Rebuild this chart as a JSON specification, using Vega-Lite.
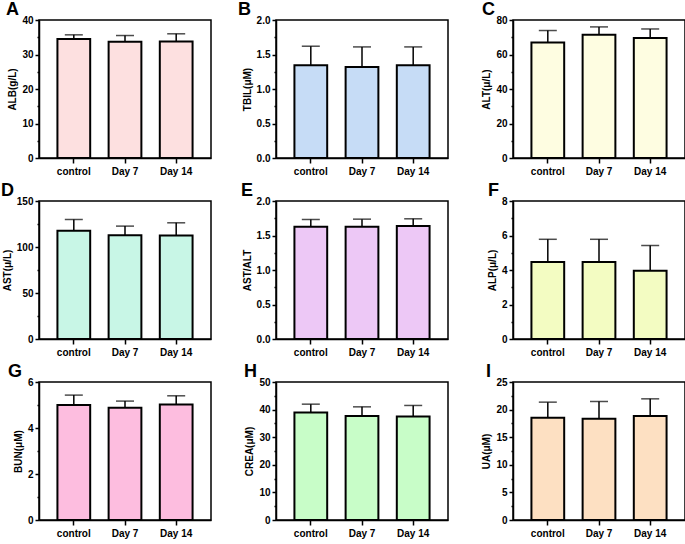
{
  "$schema": "https://vega.github.io/schema/vega-lite/v6.json",
  "padding": {"left": 0, "top": 0, "right": 0, "bottom": 0},
  "background": "white",
  "data": {"values": [
    {"panel": "A", "group": "control", "mean": 34.5, "upper": 35.7},
    {"panel": "A", "group": "Day 7", "mean": 33.7, "upper": 35.5},
    {"panel": "A", "group": "Day 14", "mean": 33.8, "upper": 36.0},
    {"panel": "B", "group": "control", "mean": 1.345, "upper": 1.62},
    {"panel": "B", "group": "Day 7", "mean": 1.32, "upper": 1.61},
    {"panel": "B", "group": "Day 14", "mean": 1.345, "upper": 1.61},
    {"panel": "C", "group": "control", "mean": 67.0, "upper": 73.9},
    {"panel": "C", "group": "Day 7", "mean": 71.4, "upper": 76.0},
    {"panel": "C", "group": "Day 14", "mean": 69.5, "upper": 74.8},
    {"panel": "D", "group": "control", "mean": 117.7, "upper": 129.9},
    {"panel": "D", "group": "Day 7", "mean": 112.7, "upper": 122.7},
    {"panel": "D", "group": "Day 14", "mean": 112.5, "upper": 126.3},
    {"panel": "E", "group": "control", "mean": 1.627, "upper": 1.732},
    {"panel": "E", "group": "Day 7", "mean": 1.627, "upper": 1.737},
    {"panel": "E", "group": "Day 14", "mean": 1.636, "upper": 1.742},
    {"panel": "F", "group": "control", "mean": 4.46, "upper": 5.78},
    {"panel": "F", "group": "Day 7", "mean": 4.46, "upper": 5.78},
    {"panel": "F", "group": "Day 14", "mean": 3.96, "upper": 5.42},
    {"panel": "G", "group": "control", "mean": 5.0, "upper": 5.43},
    {"panel": "G", "group": "Day 7", "mean": 4.88, "upper": 5.17},
    {"panel": "G", "group": "Day 14", "mean": 5.02, "upper": 5.40},
    {"panel": "H", "group": "control", "mean": 38.97, "upper": 41.97},
    {"panel": "H", "group": "Day 7", "mean": 37.65, "upper": 41.0},
    {"panel": "H", "group": "Day 14", "mean": 37.5, "upper": 41.5},
    {"panel": "I", "group": "control", "mean": 18.54, "upper": 21.35},
    {"panel": "I", "group": "Day 7", "mean": 18.36, "upper": 21.47},
    {"panel": "I", "group": "Day 14", "mean": 18.84, "upper": 21.95}
  ]},
  "columns": 3,
  "bounds": "flush",
  "spacing": {"row": 43, "column": 65},
  "concat": [
    {
      "title": {"text": "A", "dx": -33},
      "width": 172, "height": 138,
      "transform": [{"filter": "datum.panel === 'A'"}],
      "encoding": {
        "x": {"field": "group", "type": "nominal", "sort": ["control", "Day 7", "Day 14"], "scale": {"paddingInner": 0.36, "paddingOuter": 0.36}, "axis": {"title": null, "labelAngle": 0}},
        "y": {"field": "mean", "type": "quantitative", "scale": {"domain": [0, 40], "nice": false},
           "axis": {"title": "ALB(g/L)", "values": [0,5,10,15,20,25,30,35,40], "labelExpr": "datum.value % 10 === 0 ? datum.label : ''", "tickSize": {"condition": {"test": "datum.value % 10 === 0", "value": 4}, "value": 2}}}
      },
      "layer": [
        {"mark": {"type": "bar", "fill": "#fde0e0", "stroke": "black", "strokeWidth": 2}},
        {"mark": {"type": "rule", "strokeWidth": 1.5, "color": "black"}, "encoding": {"y2": {"field": "upper"}}},
        {"mark": {"type": "tick", "size": 18, "thickness": 1.5, "color": "black"}, "encoding": {"y": {"field": "upper", "type": "quantitative", "title": "ALB(g/L)"}}}
      ]
    },
    {
      "title": {"text": "B", "dx": -38},
      "width": 172, "height": 138,
      "transform": [{"filter": "datum.panel === 'B'"}],
      "encoding": {
        "x": {"field": "group", "type": "nominal", "sort": ["control", "Day 7", "Day 14"], "scale": {"paddingInner": 0.36, "paddingOuter": 0.36}, "axis": {"title": null, "labelAngle": 0}},
        "y": {"field": "mean", "type": "quantitative", "scale": {"domain": [0, 2], "nice": false},
           "axis": {"title": "TBIL(μM)", "format": ".1f", "values": [0,0.25,0.5,0.75,1,1.25,1.5,1.75,2], "labelExpr": "datum.value % 0.5 === 0 ? datum.label : ''", "tickSize": {"condition": {"test": "datum.value % 0.5 === 0", "value": 4}, "value": 2}}}
      },
      "layer": [
        {"mark": {"type": "bar", "fill": "#c6dcf6", "stroke": "black", "strokeWidth": 2}},
        {"mark": {"type": "rule", "strokeWidth": 1.5, "color": "black"}, "encoding": {"y2": {"field": "upper"}}},
        {"mark": {"type": "tick", "size": 18, "thickness": 1.5, "color": "black"}, "encoding": {"y": {"field": "upper", "type": "quantitative", "title": "TBIL(μM)"}}}
      ]
    },
    {
      "title": {"text": "C", "dx": -31},
      "width": 172, "height": 138,
      "transform": [{"filter": "datum.panel === 'C'"}],
      "encoding": {
        "x": {"field": "group", "type": "nominal", "sort": ["control", "Day 7", "Day 14"], "scale": {"paddingInner": 0.36, "paddingOuter": 0.36}, "axis": {"title": null, "labelAngle": 0}},
        "y": {"field": "mean", "type": "quantitative", "scale": {"domain": [0, 80], "nice": false},
           "axis": {"title": "ALT(μ/L)", "values": [0,10,20,30,40,50,60,70,80], "labelExpr": "datum.value % 20 === 0 ? datum.label : ''", "tickSize": {"condition": {"test": "datum.value % 20 === 0", "value": 4}, "value": 2}}}
      },
      "layer": [
        {"mark": {"type": "bar", "fill": "#fefde1", "stroke": "black", "strokeWidth": 2}},
        {"mark": {"type": "rule", "strokeWidth": 1.5, "color": "black"}, "encoding": {"y2": {"field": "upper"}}},
        {"mark": {"type": "tick", "size": 18, "thickness": 1.5, "color": "black"}, "encoding": {"y": {"field": "upper", "type": "quantitative", "title": "ALT(μ/L)"}}}
      ]
    },
    {
      "title": {"text": "D", "dx": -38},
      "width": 172, "height": 138,
      "transform": [{"filter": "datum.panel === 'D'"}],
      "encoding": {
        "x": {"field": "group", "type": "nominal", "sort": ["control", "Day 7", "Day 14"], "scale": {"paddingInner": 0.36, "paddingOuter": 0.36}, "axis": {"title": null, "labelAngle": 0}},
        "y": {"field": "mean", "type": "quantitative", "scale": {"domain": [0, 150], "nice": false},
           "axis": {"title": "AST(μ/L)", "values": [0,25,50,75,100,125,150], "labelExpr": "datum.value % 50 === 0 ? datum.label : ''", "tickSize": {"condition": {"test": "datum.value % 50 === 0", "value": 4}, "value": 2}}}
      },
      "layer": [
        {"mark": {"type": "bar", "fill": "#c8f6e6", "stroke": "black", "strokeWidth": 2}},
        {"mark": {"type": "rule", "strokeWidth": 1.5, "color": "black"}, "encoding": {"y2": {"field": "upper"}}},
        {"mark": {"type": "tick", "size": 18, "thickness": 1.5, "color": "black"}, "encoding": {"y": {"field": "upper", "type": "quantitative", "title": "AST(μ/L)"}}}
      ]
    },
    {
      "title": {"text": "E", "dx": -35},
      "width": 172, "height": 138,
      "transform": [{"filter": "datum.panel === 'E'"}],
      "encoding": {
        "x": {"field": "group", "type": "nominal", "sort": ["control", "Day 7", "Day 14"], "scale": {"paddingInner": 0.36, "paddingOuter": 0.36}, "axis": {"title": null, "labelAngle": 0}},
        "y": {"field": "mean", "type": "quantitative", "scale": {"domain": [0, 2], "nice": false},
           "axis": {"title": "AST/ALT", "format": ".1f", "values": [0,0.25,0.5,0.75,1,1.25,1.5,1.75,2], "labelExpr": "datum.value % 0.5 === 0 ? datum.label : ''", "tickSize": {"condition": {"test": "datum.value % 0.5 === 0", "value": 4}, "value": 2}}}
      },
      "layer": [
        {"mark": {"type": "bar", "fill": "#edc8f6", "stroke": "black", "strokeWidth": 2}},
        {"mark": {"type": "rule", "strokeWidth": 1.5, "color": "black"}, "encoding": {"y2": {"field": "upper"}}},
        {"mark": {"type": "tick", "size": 18, "thickness": 1.5, "color": "black"}, "encoding": {"y": {"field": "upper", "type": "quantitative", "title": "AST/ALT"}}}
      ]
    },
    {
      "title": {"text": "F", "dx": -25},
      "width": 172, "height": 138,
      "transform": [{"filter": "datum.panel === 'F'"}],
      "encoding": {
        "x": {"field": "group", "type": "nominal", "sort": ["control", "Day 7", "Day 14"], "scale": {"paddingInner": 0.36, "paddingOuter": 0.36}, "axis": {"title": null, "labelAngle": 0}},
        "y": {"field": "mean", "type": "quantitative", "scale": {"domain": [0, 8], "nice": false},
           "axis": {"title": "ALP(μ/L)", "values": [0,1,2,3,4,5,6,7,8], "labelExpr": "datum.value % 2 === 0 ? datum.label : ''", "tickSize": {"condition": {"test": "datum.value % 2 === 0", "value": 4}, "value": 2}}}
      },
      "layer": [
        {"mark": {"type": "bar", "fill": "#f3fcc2", "stroke": "black", "strokeWidth": 2}},
        {"mark": {"type": "rule", "strokeWidth": 1.5, "color": "black"}, "encoding": {"y2": {"field": "upper"}}},
        {"mark": {"type": "tick", "size": 18, "thickness": 1.5, "color": "black"}, "encoding": {"y": {"field": "upper", "type": "quantitative", "title": "ALP(μ/L)"}}}
      ]
    },
    {
      "title": {"text": "G", "dx": -31},
      "width": 172, "height": 138,
      "transform": [{"filter": "datum.panel === 'G'"}],
      "encoding": {
        "x": {"field": "group", "type": "nominal", "sort": ["control", "Day 7", "Day 14"], "scale": {"paddingInner": 0.36, "paddingOuter": 0.36}, "axis": {"title": null, "labelAngle": 0}},
        "y": {"field": "mean", "type": "quantitative", "scale": {"domain": [0, 6], "nice": false},
           "axis": {"title": "BUN(μM)", "values": [0,1,2,3,4,5,6], "labelExpr": "datum.value % 2 === 0 ? datum.label : ''", "tickSize": {"condition": {"test": "datum.value % 2 === 0", "value": 4}, "value": 2}}}
      },
      "layer": [
        {"mark": {"type": "bar", "fill": "#fdbddf", "stroke": "black", "strokeWidth": 2}},
        {"mark": {"type": "rule", "strokeWidth": 1.5, "color": "black"}, "encoding": {"y2": {"field": "upper"}}},
        {"mark": {"type": "tick", "size": 18, "thickness": 1.5, "color": "black"}, "encoding": {"y": {"field": "upper", "type": "quantitative", "title": "BUN(μM)"}}}
      ]
    },
    {
      "title": {"text": "H", "dx": -32},
      "width": 172, "height": 138,
      "transform": [{"filter": "datum.panel === 'H'"}],
      "encoding": {
        "x": {"field": "group", "type": "nominal", "sort": ["control", "Day 7", "Day 14"], "scale": {"paddingInner": 0.36, "paddingOuter": 0.36}, "axis": {"title": null, "labelAngle": 0}},
        "y": {"field": "mean", "type": "quantitative", "scale": {"domain": [0, 50], "nice": false},
           "axis": {"title": "CREA(μM)", "values": [0,5,10,15,20,25,30,35,40,45,50], "labelExpr": "datum.value % 10 === 0 ? datum.label : ''", "tickSize": {"condition": {"test": "datum.value % 10 === 0", "value": 4}, "value": 2}}}
      },
      "layer": [
        {"mark": {"type": "bar", "fill": "#c8fdc8", "stroke": "black", "strokeWidth": 2}},
        {"mark": {"type": "rule", "strokeWidth": 1.5, "color": "black"}, "encoding": {"y2": {"field": "upper"}}},
        {"mark": {"type": "tick", "size": 18, "thickness": 1.5, "color": "black"}, "encoding": {"y": {"field": "upper", "type": "quantitative", "title": "CREA(μM)"}}}
      ]
    },
    {
      "title": {"text": "I", "dx": -27},
      "width": 172, "height": 138,
      "transform": [{"filter": "datum.panel === 'I'"}],
      "encoding": {
        "x": {"field": "group", "type": "nominal", "sort": ["control", "Day 7", "Day 14"], "scale": {"paddingInner": 0.36, "paddingOuter": 0.36}, "axis": {"title": null, "labelAngle": 0}},
        "y": {"field": "mean", "type": "quantitative", "scale": {"domain": [0, 25], "nice": false},
           "axis": {"title": "UA(μM)", "values": [0,2.5,5,7.5,10,12.5,15,17.5,20,22.5,25], "labelExpr": "datum.value % 5 === 0 ? datum.label : ''", "tickSize": {"condition": {"test": "datum.value % 5 === 0", "value": 4}, "value": 2}}}
      },
      "layer": [
        {"mark": {"type": "bar", "fill": "#fde0c2", "stroke": "black", "strokeWidth": 2}},
        {"mark": {"type": "rule", "strokeWidth": 1.5, "color": "black"}, "encoding": {"y2": {"field": "upper"}}},
        {"mark": {"type": "tick", "size": 18, "thickness": 1.5, "color": "black"}, "encoding": {"y": {"field": "upper", "type": "quantitative", "title": "UA(μM)"}}}
      ]
    }
  ],
  "config": {
    "view": {"stroke": "black", "strokeWidth": 1.5},
    "axis": {
      "grid": false,
      "labelFont": "Liberation Sans", "labelFontWeight": "bold", "labelFontSize": 10, "labelColor": "black",
      "titleFont": "Liberation Sans", "titleFontWeight": "bold", "titleFontSize": 10, "titleColor": "black",
      "domainColor": "black", "domainWidth": 1.5, "tickColor": "black", "tickWidth": 1.5,
      "labelOverlap": false, "labelPadding": 2, "titlePadding": 4
    },
    "axisX": {"tickSize": 5, "labelPadding": 3},
    "title": {"anchor": "start", "frame": "group", "offset": 0, "dy": 8, "baseline": "alphabetic", "fontSize": 18, "fontWeight": "bold", "font": "Liberation Sans", "color": "black"}
  }
}
